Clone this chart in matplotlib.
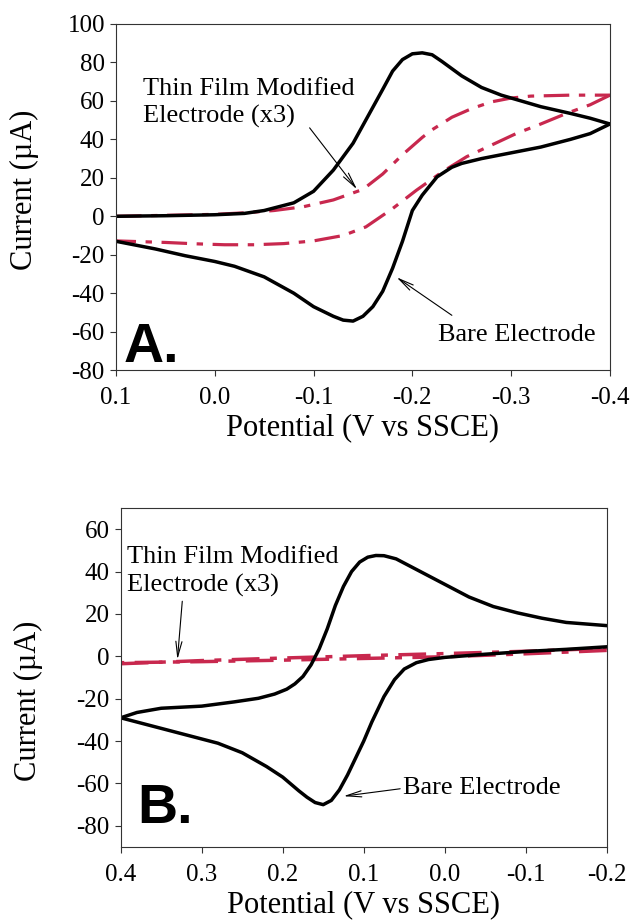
import matplotlib
matplotlib.use("Agg")
import matplotlib.pyplot as plt

plt.rcParams['font.family'] = ['Liberation Serif', 'DejaVu Serif']

RED = '#c8284e'

# ---- Panel A data (potential V, current uA) ----
a_bare_fwd_x = [0.10, 0.05, 0.00, -0.03, -0.05, -0.08, -0.10, -0.12, -0.14, -0.155, -0.17, -0.18,
                -0.19, -0.20, -0.21, -0.22, -0.23, -0.25, -0.27, -0.29, -0.31, -0.33, -0.36, -0.38, -0.40]
a_bare_fwd_y = [0.0, 0.3, 0.8, 1.5, 3.0, 7.0, 13.0, 24.0, 38.0, 52.0, 66.0, 75.5,
                81.5, 84.5, 85.0, 84.0, 80.5, 73.0, 67.0, 63.0, 60.0, 57.0, 53.5, 51.0, 48.0]
a_bare_rev_x = [-0.40, -0.38, -0.36, -0.33, -0.30, -0.27, -0.25, -0.24, -0.225, -0.21, -0.20, -0.19,
                -0.18, -0.17, -0.16, -0.15, -0.14, -0.13, -0.12, -0.10, -0.08, -0.05, -0.02, 0.00,
                0.03, 0.06, 0.08, 0.10]
a_bare_rev_y = [48.0, 43.0, 40.0, 36.0, 33.0, 30.0, 27.5, 25.5, 20.5, 11.0, 3.0, -13.0,
                -27.0, -39.0, -47.0, -52.0, -54.5, -54.0, -52.0, -47.0, -40.0, -31.5, -26.0, -23.5,
                -20.5, -17.0, -15.0, -13.0]
a_film_fwd_x = [0.10, 0.05, 0.00, -0.03, -0.06, -0.09, -0.12, -0.15, -0.17, -0.19, -0.21, -0.22,
                -0.24, -0.26, -0.28, -0.30, -0.32, -0.36, -0.40]
a_film_fwd_y = [0.0, 0.5, 1.0, 1.8, 3.0, 5.0, 8.5, 14.0, 22.0, 32.0, 41.0, 45.0,
                51.5, 56.0, 59.5, 61.5, 62.5, 63.0, 63.0]
a_film_rev_x = [-0.40, -0.38, -0.356, -0.33, -0.305, -0.28, -0.255, -0.23, -0.204, -0.18, -0.153,
                -0.13, -0.10, -0.07, -0.04, -0.01, 0.02, 0.05, 0.10]
a_film_rev_y = [63.0, 58.0, 53.5, 48.0, 43.0, 37.0, 31.0, 23.0, 13.5, 4.0, -5.5,
                -10.0, -12.8, -14.2, -14.8, -14.8, -14.3, -13.6, -12.8]

# ---- Panel B data ----
b_bare_fwd_x = [0.40, 0.38, 0.35, 0.30, 0.26, 0.23, 0.21, 0.195, 0.185, 0.175, 0.165, 0.155, 0.145,
                0.135, 0.125, 0.115, 0.105, 0.095, 0.085, 0.075, 0.06, 0.04, 0.02, 0.00, -0.03, -0.06,
                -0.09, -0.12, -0.15, -0.20]
b_bare_fwd_y = [-29.0, -26.5, -24.5, -23.5, -21.5, -19.8, -17.8, -15.5, -13.0, -9.5, -4.0, 3.5, 13.0,
                24.0, 33.0, 40.0, 44.5, 46.8, 47.6, 47.5, 46.0, 42.0, 38.0, 34.0, 28.0, 23.5,
                20.5, 18.0, 16.0, 14.5]
b_bare_rev_x = [-0.20, -0.15, -0.10, -0.05, 0.00, 0.02, 0.035, 0.05, 0.062, 0.075, 0.09, 0.10, 0.11,
                0.12, 0.13, 0.14, 0.15, 0.16, 0.17, 0.18, 0.20, 0.22, 0.25, 0.28, 0.31, 0.34, 0.37, 0.40]
b_bare_rev_y = [4.5, 3.3, 2.3, 1.0, -0.5, -1.5, -3.0, -6.0, -11.0, -19.0, -31.0, -40.0, -48.0,
                -56.0, -63.0, -68.0, -70.0, -69.0, -66.5, -63.5, -57.0, -52.0, -45.5, -41.0, -38.0,
                -35.0, -32.0, -29.0]
b_film_fwd_x = [0.40, 0.30, 0.20, 0.10, 0.00, -0.10, -0.20]
b_film_fwd_y = [-3.5, -2.0, -0.8, 0.3, 1.3, 2.4, 3.8]
b_film_rev_x = [-0.20, -0.10, 0.00, 0.10, 0.20, 0.30, 0.40]
b_film_rev_y = [2.8, 1.2, -0.2, -1.0, -1.8, -2.5, -3.0]

a_yticks = list(range(-80, 101, 20))
a_xticks = [0.1, 0.0, -0.1, -0.2, -0.3, -0.4]
b_yticks = list(range(-80, 61, 20))
b_xticks = [0.4, 0.3, 0.2, 0.1, 0.0, -0.1, -0.2]

FS = 18      # tick labels
FT = 19      # annotation text
FL = 22      # axis labels
arrow = dict(arrowstyle='->,head_length=1.1,head_width=0.22', lw=0.8, color='black',
             shrinkA=0, shrinkB=0)

fig = plt.figure(figsize=(6.32, 9.23), dpi=100)
axA = fig.add_axes([0.1835, 0.599, 0.7816, 0.375])
axB = fig.add_axes([0.191, 0.0823, 0.769, 0.3673])


def style(ax, xticks, yticks, xlim, ylim):
    ax.set_xlim(*xlim)
    ax.set_ylim(*ylim)
    ax.set_xticks(xticks)
    ax.set_xticklabels(['%.1f' % v if abs(v) > 1e-9 else '0.0' for v in xticks])
    ax.set_yticks(yticks)
    ax.set_yticklabels([str(v) for v in yticks])
    ax.tick_params(direction='out', length=4, width=0.8, labelsize=FS, color='#333333')
    ax.tick_params(axis='x', pad=8)
    ax.tick_params(axis='y', pad=4)
    for s in ax.spines.values():
        s.set_linewidth(0.8)
        s.set_color('#333333')
    ax.set_xlabel('Potential (V vs SSCE)', fontsize=FL, labelpad=3)
    ax.set_ylabel('Current (\u00b5A)', fontsize=FL)


# Panel A
axA.plot(a_film_fwd_x, a_film_fwd_y, color=RED, lw=2.3, ls='-.', dashes=(8, 3, 2, 3))
axA.plot(a_film_rev_x, a_film_rev_y, color=RED, lw=2.3, ls='-.', dashes=(8, 3, 2, 3))
axA.plot(a_bare_fwd_x, a_bare_fwd_y, color='black', lw=2.5)
axA.plot(a_bare_rev_x, a_bare_rev_y, color='black', lw=2.5)
style(axA, a_xticks, a_yticks, (0.1, -0.4), (-80, 100))
axA.yaxis.set_label_coords(-0.155, 0.52)
axA.text(0.0727, 72, 'Thin Film Modified\nElectrode (x3)', fontsize=FT, ha='left', va='top',
         linespacing=1.3)
axA.annotate('', xy=(-0.144, 14), xytext=(-0.096, 46), arrowprops=arrow)
axA.text(-0.226, -56, 'Bare Electrode', fontsize=FT, ha='left', va='top')
axA.annotate('', xy=(-0.184, -31.7), xytext=(-0.24, -51.5), arrowprops=arrow)
axA.text(0.016, 0.023, 'A.', transform=axA.transAxes, fontsize=40, fontweight='bold',
         family='Liberation Sans', ha='left', va='baseline')

# Panel B
axB.plot(b_film_fwd_x, b_film_fwd_y, color=RED, lw=2.5, ls='-.', dashes=(8, 3, 2, 3))
axB.plot(b_film_rev_x, b_film_rev_y, color=RED, lw=2.5, ls='-.', dashes=(8, 3, 2, 3))
axB.plot(b_bare_fwd_x, b_bare_fwd_y, color='black', lw=2.5)
axB.plot(b_bare_rev_x, b_bare_rev_y, color='black', lw=2.5)
style(axB, b_xticks, b_yticks, (0.4, -0.2), (-90, 70))
axB.yaxis.set_label_coords(-0.16, 0.43)
axB.text(0.392, 52, 'Thin Film Modified\nElectrode (x3)', fontsize=FT, ha='left', va='top',
         linespacing=1.3)
axB.annotate('', xy=(0.330, -1.5), xytext=(0.324, 26), arrowprops=arrow)
axB.text(0.0515, -57, 'Bare Electrode', fontsize=FT, ha='left', va='top')
axB.annotate('', xy=(0.125, -66), xytext=(0.055, -62.5), arrowprops=arrow)
axB.text(0.034, 0.071, 'B.', transform=axB.transAxes, fontsize=40, fontweight='bold',
         family='Liberation Sans', ha='left', va='baseline')

fig.savefig('out.png', dpi=100)
